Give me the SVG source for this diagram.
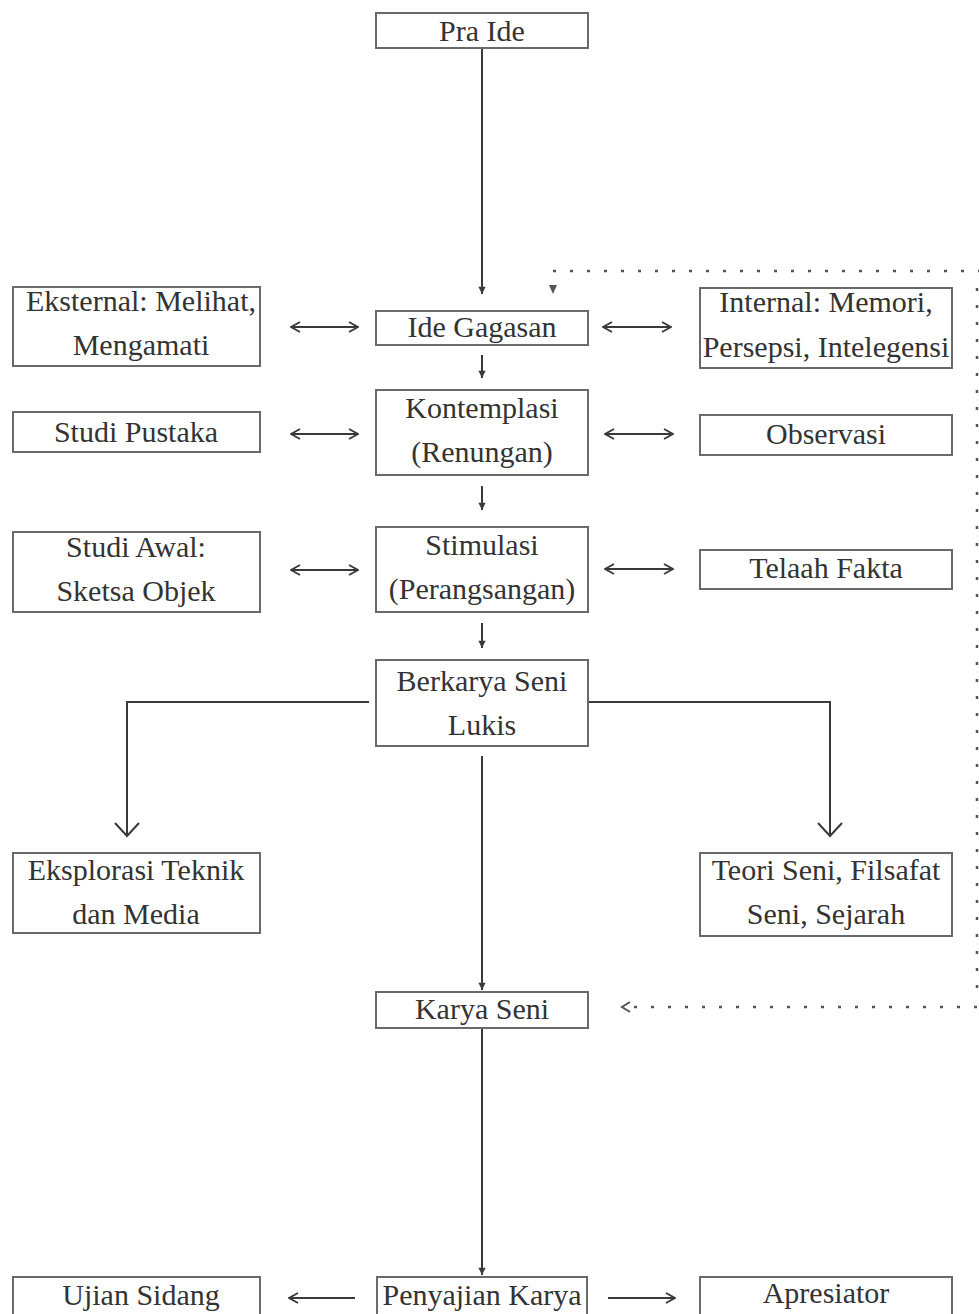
<svg xmlns="http://www.w3.org/2000/svg" width="979" height="1314" viewBox="0 0 979 1314">
<style>
.box{fill:#fff;stroke:#6a6a6a;stroke-width:2}
.t{font-family:"Liberation Serif","Times New Roman","DejaVu Serif",serif;font-size:30px;fill:#333;text-anchor:middle}
.ln{fill:none;stroke:#3a3a3a;stroke-width:2}
.dot{fill:none;stroke:#555;stroke-width:2.5;stroke-dasharray:3 14}
</style>
<defs>
<marker id="ah" viewBox="0 0 12 12" refX="11" refY="6" markerWidth="12" markerHeight="12" markerUnits="userSpaceOnUse" orient="auto-start-reverse">
<path d="M2,1 L11,6 L2,11" fill="none" stroke="#3a3a3a" stroke-width="2"/>
</marker>
<marker id="big" viewBox="0 0 28 28" refX="26" refY="14" markerWidth="28" markerHeight="28" markerUnits="userSpaceOnUse" orient="auto">
<path d="M13,2 L26,14 L13,26" fill="none" stroke="#3a3a3a" stroke-width="2"/>
</marker>
<marker id="sm" viewBox="0 0 10 10" refX="9" refY="5" markerWidth="9" markerHeight="9" markerUnits="userSpaceOnUse" orient="auto">
<path d="M1,1 L9,5 L1,9 Z" fill="#3a3a3a"/>
</marker>
<marker id="dh" viewBox="0 0 12 12" refX="10" refY="6" markerWidth="12" markerHeight="12" markerUnits="userSpaceOnUse" orient="auto">
<path d="M2,1 L10,6 L2,11" fill="none" stroke="#555" stroke-width="2"/>
</marker>
</defs>
<g id="connectors">
<line class="ln" x1="482" y1="48" x2="482" y2="294" marker-end="url(#sm)"/>
<line class="ln" x1="482" y1="355" x2="482" y2="378" marker-end="url(#sm)"/>
<line class="ln" x1="482" y1="486" x2="482" y2="510" marker-end="url(#sm)"/>
<line class="ln" x1="482" y1="623" x2="482" y2="648" marker-end="url(#sm)"/>
<line class="ln" x1="482" y1="756" x2="482" y2="990" marker-end="url(#sm)"/>
<line class="ln" x1="482" y1="1028" x2="482" y2="1275" marker-end="url(#sm)"/>
<line class="ln" x1="291" y1="327" x2="358" y2="327" marker-start="url(#ah)" marker-end="url(#ah)"/>
<line class="ln" x1="291" y1="434" x2="358" y2="434" marker-start="url(#ah)" marker-end="url(#ah)"/>
<line class="ln" x1="291" y1="570" x2="358" y2="570" marker-start="url(#ah)" marker-end="url(#ah)"/>
<line class="ln" x1="603" y1="327" x2="671" y2="327" marker-start="url(#ah)" marker-end="url(#ah)"/>
<line class="ln" x1="605" y1="434" x2="673" y2="434" marker-start="url(#ah)" marker-end="url(#ah)"/>
<line class="ln" x1="605" y1="569" x2="673" y2="569" marker-start="url(#ah)" marker-end="url(#ah)"/>
<polyline class="ln" points="369,702 127,702 127,836" marker-end="url(#big)"/>
<polyline class="ln" points="589,702 830,702 830,836" marker-end="url(#big)"/>
<line class="ln" x1="355" y1="1298" x2="289" y2="1298" marker-end="url(#ah)"/>
<line class="ln" x1="608" y1="1298" x2="675" y2="1298" marker-end="url(#ah)"/>
<polyline class="dot" points="553,271 979,271"/>
<line class="dot" x1="977" y1="288" x2="977" y2="1000"/>
<polyline class="dot" points="977,1007 622,1007" marker-end="url(#dh)"/>
<path d="M549,285 L553,294 L557,285 Z" fill="#555"/>
</g>
<g id="n-praide"><rect class="box" x="376" y="13" width="212" height="35"/><text class="t" x="482" y="41">Pra Ide</text></g>
<g id="n-ide"><rect class="box" x="376" y="311" width="212" height="34"/><text class="t" x="482" y="337">Ide Gagasan</text></g>
<g id="n-kontemplasi"><rect class="box" x="376" y="390" width="212" height="85"/><text class="t" x="482" y="418">Kontemplasi</text><text class="t" x="482" y="462">(Renungan)</text></g>
<g id="n-stimulasi"><rect class="box" x="376" y="527" width="212" height="85"/><text class="t" x="482" y="555">Stimulasi</text><text class="t" x="482" y="599">(Perangsangan)</text></g>
<g id="n-berkarya"><rect class="box" x="376" y="660" width="212" height="86"/><text class="t" x="482" y="691">Berkarya Seni</text><text class="t" x="482" y="735">Lukis</text></g>
<g id="n-karya"><rect class="box" x="376" y="992" width="212" height="36"/><text class="t" x="482" y="1019">Karya Seni</text></g>
<g id="n-penyajian"><rect class="box" x="377" y="1277" width="210" height="40"/><text class="t" x="482" y="1305">Penyajian Karya</text></g>
<g id="n-eksternal"><rect class="box" x="13" y="287" width="247" height="79"/><text class="t" x="141" y="311">Eksternal: Melihat,</text><text class="t" x="141" y="355">Mengamati</text></g>
<g id="n-studipustaka"><rect class="box" x="13" y="412" width="247" height="40"/><text class="t" x="136" y="442">Studi Pustaka</text></g>
<g id="n-studiawal"><rect class="box" x="13" y="532" width="247" height="80"/><text class="t" x="136" y="557">Studi Awal:</text><text class="t" x="136" y="601">Sketsa Objek</text></g>
<g id="n-eksplorasi"><rect class="box" x="13" y="853" width="247" height="80"/><text class="t" x="136" y="880">Eksplorasi Teknik</text><text class="t" x="136" y="924">dan Media</text></g>
<g id="n-ujian"><rect class="box" x="13" y="1277" width="247" height="40"/><text class="t" x="141" y="1305">Ujian Sidang</text></g>
<g id="n-internal"><rect class="box" x="700" y="288" width="252" height="80"/><text class="t" x="826" y="312">Internal: Memori,</text><text class="t" x="826" y="357">Persepsi, Intelegensi</text></g>
<g id="n-observasi"><rect class="box" x="700" y="415" width="252" height="40"/><text class="t" x="826" y="444">Observasi</text></g>
<g id="n-telaah"><rect class="box" x="700" y="550" width="252" height="39"/><text class="t" x="826" y="578">Telaah Fakta</text></g>
<g id="n-teori"><rect class="box" x="700" y="853" width="252" height="83"/><text class="t" x="826" y="880">Teori Seni, Filsafat</text><text class="t" x="826" y="924">Seni, Sejarah</text></g>
<g id="n-apresiator"><rect class="box" x="700" y="1277" width="252" height="40"/><text class="t" x="826" y="1303">Apresiator</text></g>
</svg>
